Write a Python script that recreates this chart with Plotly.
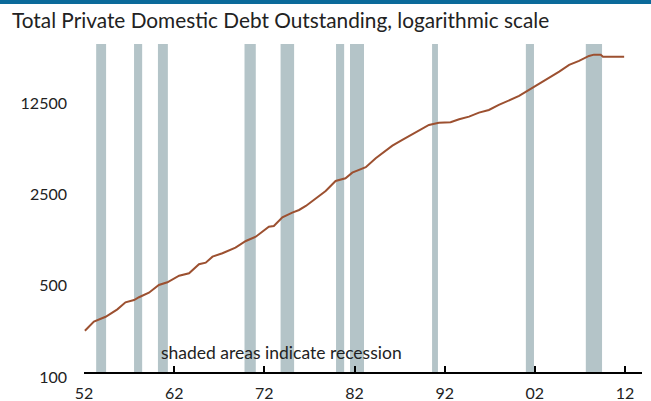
import plotly.graph_objects as go

# total private domestic debt (billions, log scale)
years = [1952.1, 1953.1, 1954.4, 1955.7, 1956.6, 1957.55, 1958.1, 1959.2, 1960.3, 1961.25,
         1962.55, 1963.65, 1964.75, 1965.5, 1966.25, 1967.35, 1968.8, 1969.95, 1971.05, 1972.5,
         1973.05, 1974.0, 1975.1, 1975.85, 1976.6, 1977.7, 1978.8, 1979.9, 1981.0, 1981.75,
         1983.25, 1984.35, 1985.45, 1986.2, 1987.3, 1988.4, 1990.25, 1991.35, 1992.65, 1993.6,
         1994.7, 1995.8, 1996.9, 1998.0, 1999.15, 2000.25, 2001.35, 2002.45, 2003.55, 2004.7,
         2005.8, 2006.9, 2008.0, 2008.55, 2009.3, 2009.55, 2011.9]
debt = [207, 243, 265, 302, 342, 356, 374, 405, 464, 487,
        547, 571, 669, 688, 765, 812, 896, 1009, 1088, 1298,
        1315, 1532, 1663, 1743, 1871, 2143, 2438, 2908, 3050, 3367,
        3704, 4341, 4964, 5422, 5995, 6630, 7810, 8134, 8193, 8638,
        9045, 9705, 10177, 11117, 11995, 13027, 14487, 16106, 17808, 20003,
        22520, 24160, 26393, 27003, 27003, 26067, 26067]

# recession periods (start, end)
rec_start = [1953.35, 1957.55, 1960.2, 1969.8, 1973.8, 1979.95, 1981.5, 1990.6, 2001.0, 2007.65]
rec_end = [1954.45, 1958.45, 1961.3, 1971.05, 1975.3, 1980.85, 1983.05, 1991.25, 2001.9, 2009.45]

x_tickvals = [1952, 1962, 1972, 1982, 1992, 2002, 2012]
x_ticktext = ['52', '62', '72', '82', '92', '02', '12']
y_tickvals = [100, 500, 2500, 12500]
y_ticktext = ['100', '500', '2500', '12500']

fig = go.Figure()

for s, e in zip(rec_start, rec_end):
    fig.add_vrect(x0=s, x1=e, fillcolor='#b4c4c8', opacity=1, line_width=0, layer='below')

fig.add_trace(go.Scatter(x=years, y=debt, mode='lines',
                         line=dict(color='#9c5030', width=2), showlegend=False,
                         hoverinfo='skip'))

# blue rule along the top edge
fig.add_shape(type='rect', xref='paper', yref='paper', x0=-0.2, x1=1.2,
              y0=1 + 40 / 328, y1=1 + 44 / 328, fillcolor='#0b6a9a', line_width=0)

fig.add_annotation(text='shaded areas indicate recession', xref='x', yref='paper',
                   x=1960.3, y=20 / 328, xanchor='left', yanchor='middle', showarrow=False,
                   font=dict(size=17.5, color='#222'))

fig.update_layout(
    width=651, height=401,
    paper_bgcolor='white', plot_bgcolor='white',
    margin=dict(l=84, r=9, t=44, b=29, autoexpand=False),
    font=dict(family='Lato', size=16, color='#222'),
    title=dict(text='Total Private Domestic Debt Outstanding, logarithmic scale',
               x=12 / 651, xanchor='left', y=1 - 21 / 401, yanchor='middle',
               font=dict(size=20.8, color='#222')),
)
fig.update_xaxes(range=[1952, 2013.88], tickvals=x_tickvals, ticktext=x_ticktext,
                 showgrid=False, zeroline=False, showline=True, linecolor='black',
                 linewidth=2, ticks='inside', ticklen=6, tickwidth=2, tickcolor='black',
                 ticklabelstandoff=6, automargin=False)
fig.update_yaxes(type='log', range=[2, 4.513], tickvals=y_tickvals, ticktext=y_ticktext,
                 showgrid=False, zeroline=False, showline=False, ticks='',
                 ticklabelstandoff=16, ticklabelshift=5, automargin=False)

# no page margin, so the figure fills the window
fig.write_html("out.html", config={'displayModeBar': False},
               post_script="document.body.style.margin='0';")
